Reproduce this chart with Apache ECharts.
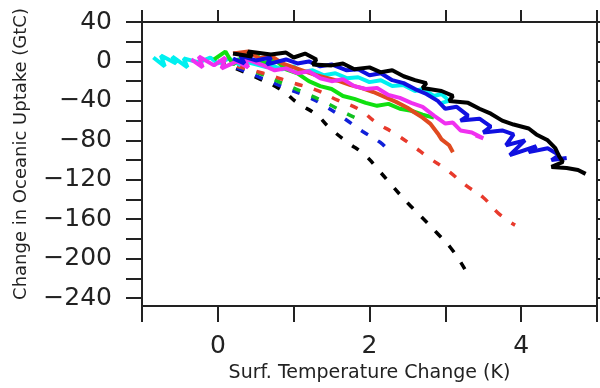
<!DOCTYPE html>
<html>
<head>
<meta charset="utf-8">
<script src="https://cdn.jsdelivr.net/npm/echarts@6/dist/echarts.min.js"></script>
<style>
  html, body { margin: 0; padding: 0; background: #fff; }
  #chart { width: 600px; height: 388px; }
</style>
</head>
<body>
<div id="chart"></div>
<script>
// tick labels
const xTickLabels = [0, 2, 4];
const yTicks = [-240, -220, -200, -180, -160, -140, -120, -100, -80, -60, -40, -20, 0, 20, 40];
const yTickLabels = [-240, -200, -160, -120, -80, -40, 0, 40];

// solid runs [surf. temperature change, uptake change]
const cyanRun = [[-0.85, 4], [-0.7, -5], [-0.75, 6], [-0.55, -2], [-0.6, 5], [-0.4, -6], [-0.45, 3], [-0.25, -1], [-0.1, 4], [0.0, -2], [0.15, 3], [0.3, -4], [0.25, 2], [0.5, -3], [0.65, -6], [0.6, -1], [0.85, -8], [1.0, -5], [1.1, -11], [1.25, -9], [1.4, -14], [1.55, -12], [1.7, -17], [1.85, -16], [2.0, -21], [2.15, -19], [2.3, -25], [2.45, -24], [2.6, -30], [2.7, -28], [2.85, -35], [2.95, -33], [3.05, -40], [2.95, -42]];
const magentaRun = [[-0.35, 2], [-0.2, -6], [-0.25, 5], [-0.05, -4], [0.1, 4], [0.05, -7], [0.25, 0], [0.4, -6], [0.35, 3], [0.6, -4], [0.75, -9], [0.9, -7], [1.05, -12], [1.2, -10], [1.35, -17], [1.5, -20], [1.65, -18], [1.8, -25], [1.95, -28], [2.1, -27], [2.25, -34], [2.4, -37], [2.55, -42], [2.7, -46], [2.85, -55], [3.0, -63], [3.1, -62], [3.2, -70], [3.35, -72], [3.5, -78], [3.4, -75]];
const greenRun = [[-0.05, 2], [0.1, 10], [0.2, -3], [0.35, 6], [0.5, 8], [0.6, -2], [0.75, 2], [0.9, -8], [1.05, -12], [1.2, -20], [1.35, -25], [1.5, -28], [1.65, -35], [1.8, -38], [1.95, -42], [2.1, -45], [2.25, -43], [2.4, -48], [2.55, -50], [2.7, -54], [2.85, -57]];
const redRun = [[0.2, 8], [0.4, 10], [0.55, 3], [0.7, 6], [0.85, -2], [1.0, -6], [1.15, -10], [1.3, -14], [1.45, -17], [1.6, -20], [1.75, -24], [1.9, -27], [2.05, -31], [2.2, -36], [2.35, -41], [2.5, -47], [2.6, -52], [2.7, -57], [2.8, -63], [2.9, -73], [2.95, -79], [3.05, -85], [3.1, -92]];
const blueRun = [[0.2, 3], [0.35, -2], [0.3, 6], [0.5, 1], [0.7, 4], [0.65, -3], [0.9, 2], [1.05, -2], [1.2, 0], [1.35, -5], [1.5, -3], [1.7, -9], [1.85, -8], [2.0, -14], [2.15, -12], [2.3, -19], [2.45, -22], [2.6, -28], [2.75, -33], [2.9, -40], [3.0, -48], [3.15, -46], [3.3, -55], [3.2, -60], [3.45, -58], [3.6, -66], [3.5, -72], [3.75, -70], [3.9, -74], [3.8, -85], [4.05, -80], [3.85, -95], [4.2, -86], [4.1, -92], [4.35, -88], [4.5, -95], [4.4, -100], [4.6, -98]];
const blackRun = [[0.2, 8], [0.45, 5], [0.4, 10], [0.7, 7], [0.9, 9], [1.0, 4], [1.15, 8], [1.3, 2], [1.25, -3], [1.5, -4], [1.65, -2], [1.8, -8], [2.0, -6], [2.15, -11], [2.3, -9], [2.45, -15], [2.6, -19], [2.75, -22], [2.7, -27], [2.95, -30], [3.1, -35], [3.05, -40], [3.3, -42], [3.45, -48], [3.6, -53], [3.75, -60], [3.9, -64], [4.1, -68], [4.2, -74], [4.35, -80], [4.45, -88], [4.5, -96], [4.55, -102], [4.4, -107], [4.6, -108], [4.75, -110], [4.85, -114]];

// dashed curves
const blackDash = [[0, 0], [0.5, -16], [0.84, -29], [1.05, -42], [1.3, -54], [1.47, -67], [1.71, -82], [1.94, -95], [2.14, -112], [2.31, -127], [2.51, -144], [2.69, -158], [2.89, -174], [3.09, -191], [3.26, -211]];
const blueDash = [[0, 0], [0.3, -8], [0.64, -19], [0.9, -27], [1.19, -36], [1.43, -46], [1.65, -57], [1.91, -71], [2.14, -82], [2.2, -86]];
const greenDash = [[0, 0], [0.4, -8], [0.91, -24], [1.15, -32], [1.43, -42], [1.7, -53], [1.9, -60]];
const redDash = [[0, 0], [0.6, -12], [1.0, -22], [1.3, -29], [1.57, -39], [1.87, -49], [2.09, -62], [2.33, -73], [2.56, -85], [2.79, -98], [3.02, -110], [3.26, -125], [3.5, -138], [3.7, -154], [3.92, -166]];

const font = 'DejaVu Sans';
const axisColor = '#222';

const solid = (data, color) => ({
  type: 'line', data, showSymbol: false, smooth: false,
  lineStyle: { color, width: 4 }, itemStyle: { color }
});
const dashed = (data, color) => ({
  type: 'line', data, showSymbol: false, smooth: true,
  lineStyle: { color, width: 3.5, type: [8, 12] }, itemStyle: { color }
});

const frameAxis = (extra) => Object.assign({
  type: 'value',
  axisLine: { show: true, onZero: false, lineStyle: { color: axisColor, width: 2 } },
  splitLine: { show: false }
}, extra);

const chart = echarts.init(document.getElementById('chart'));
chart.setOption({
  animation: false,
  grid: { left: 142, right: 3, top: 22, bottom: 82 },
  xAxis: [
    frameAxis({
      min: -1, max: 5, interval: 1, position: 'bottom',
      axisTick: { show: true, length: 16, lineStyle: { color: axisColor, width: 2 } },
      axisLabel: {
        customValues: xTickLabels, margin: 28,
        fontFamily: font, fontSize: 25, color: axisColor
      },
      name: 'Surf. Temperature Change (K)', nameLocation: 'middle', nameGap: 58,
      nameTextStyle: { fontFamily: font, fontSize: 19, color: axisColor }
    }),
    frameAxis({
      min: -1, max: 5, interval: 1, position: 'top',
      axisTick: { show: true, length: 12, lineStyle: { color: axisColor, width: 2 } },
      axisLabel: { show: false }
    })
  ],
  yAxis: [
    frameAxis({
      min: -248, max: 40, position: 'left',
      axisTick: { show: true, length: 16, customValues: yTicks, lineStyle: { color: axisColor, width: 2 } },
      axisLabel: {
        customValues: yTickLabels, margin: 30,
        fontFamily: font, fontSize: 25, color: axisColor,
        formatter: v => String(v).replace('-', '\u2212')
      },
      name: 'Change in Oceanic Uptake (GtC)', nameLocation: 'middle', nameGap: 112,
      nameTextStyle: { fontFamily: font, fontSize: 18, color: axisColor, padding: [0, 0, 0, 20] }
    }),
    frameAxis({
      min: -248, max: 40, position: 'right',
      axisTick: { show: true, length: 12, customValues: yTicks, lineStyle: { color: axisColor, width: 2 } },
      axisLabel: { show: false }
    })
  ],
  series: [
    dashed(blackDash, '#000000'),
    dashed(blueDash, '#1020d8'),
    dashed(greenDash, '#10c020'),
    dashed(redDash, '#e83a2c'),
    solid(cyanRun, '#00f0f0'),
    solid(greenRun, '#10e010'),
    solid(redRun, '#e04a20'),
    solid(magentaRun, '#f030f0'),
    solid(blueRun, '#1010e0'),
    solid(blackRun, '#000000')
  ]
});
</script>
</body>
</html>
